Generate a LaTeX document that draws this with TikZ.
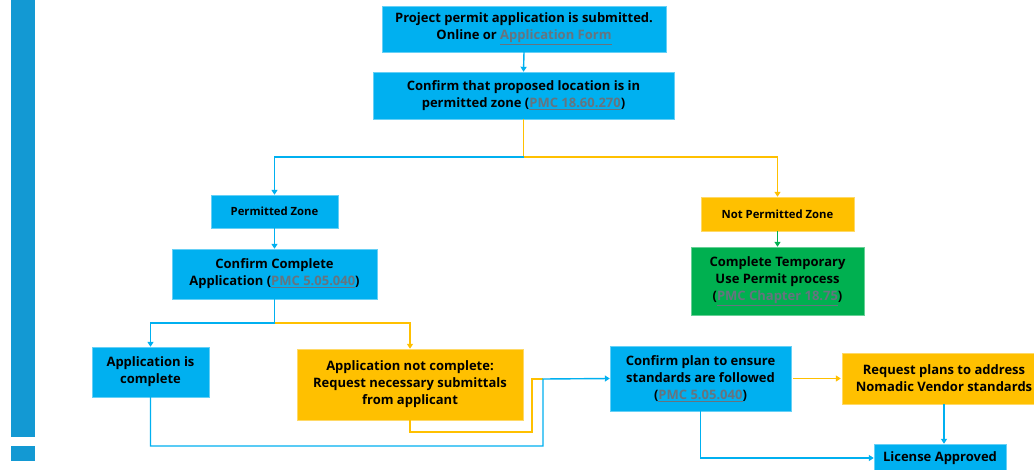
\documentclass[tikz,border=0pt]{standalone}
\usepackage{fontspec}
\setmainfont{Open Sans}
\usetikzlibrary{arrows.meta}
\definecolor{cyanbox}{HTML}{00B0F0}
\definecolor{yelbox}{HTML}{FFC000}
\definecolor{grnbox}{HTML}{00B050}
\definecolor{barblue}{HTML}{1399D3}
\definecolor{linkgray}{HTML}{66747F}
\newcommand{\lnk}[1]{\textcolor{linkgray}{\underline{#1}}}
\tikzset{
  box/.style={inner sep=0pt, align=center, font=\bfseries\fontsize{13}{17}\selectfont, text=black},
  cbox/.style={box, fill=cyanbox, draw=cyanbox!60!white, line width=0.4pt},
  ybox/.style={box, fill=yelbox, draw=yelbox!60!white, line width=0.4pt},
  gbox/.style={box, fill=grnbox, draw=grnbox!60!white, line width=0.4pt},
  small/.style={font=\bfseries\fontsize{11.3}{15}\selectfont},
  conn/.style={line width=1.4pt},
  bl/.style={conn, draw=cyanbox},
  yl/.style={conn, draw=yelbox},
  gl/.style={conn, draw=grnbox},
  tip/.style={-{Triangle[length=5pt,width=6pt]}},
}
\begin{document}
\begin{tikzpicture}[x=1pt,y=-1pt]
\clip (0,0) rectangle (1034,469);
\useasboundingbox (0,0) rectangle (1034,469);
\fill[white] (0,0) rectangle (1034,469);
% left bar
\fill[barblue] (11,0) rectangle (35,437);
\fill[barblue] (11,446) rectangle (35,461);
% nodes
\node[cbox, minimum width=284pt, minimum height=46pt] (b1) at (524,29)
  {Project permit application is submitted.\\Online or \lnk{Application Form}};
\node[cbox, minimum width=301pt, minimum height=47pt] (b2) at (523.5,95.5)
  {Confirm that proposed location is in\\permitted zone (\lnk{PMC 18.60.270})};
\node[cbox, small, minimum width=127pt, minimum height=33pt] (pz) at (274.5,211.5) {Permitted Zone};
\node[ybox, small, minimum width=153pt, minimum height=34pt] (npz) at (777.5,214) {Not Permitted Zone};
\node[cbox, minimum width=205pt, minimum height=50pt] (cca) at (274.5,274)
  {Confirm Complete\\Application (\lnk{PMC 5.05.040})};
\node[gbox, minimum width=173pt, minimum height=68pt] (tup) at (777.5,281)
  {Complete Temporary\\Use Permit process\\(\lnk{PMC Chapter 18.75})};
\node[cbox, minimum width=117pt, minimum height=50pt] (aic) at (150.5,372)
  {Application is\\complete};
\node[ybox, minimum width=226pt, minimum height=71pt] (anc) at (410,384.5)
  {Application not complete:\\Request necessary submittals\\from applicant};
\node[cbox, minimum width=181pt, minimum height=65pt] (cpl) at (700.5,378.5)
  {Confirm plan to ensure\\standards are followed\\(\lnk{PMC 5.05.040})};
\node[ybox, minimum width=204pt, minimum height=51pt] (rpl) at (944,378.5)
  {Request plans to address\\Nomadic Vendor standards};
\node[cbox, minimum width=132pt, minimum height=28pt] (lic) at (940,458)
  {License Approved};
% connectors
\draw[bl, tip] (b1.south) -- (b2.north);
\coordinate (j1) at (523.5,157);
\draw[yl, tip] (b2.south) -- (j1) -| (npz.north);
\draw[bl, tip] (j1) -| (pz.north);
\draw[bl, tip] (pz.south) -- (cca.north);
\draw[gl, tip] (npz.south) -- (tup.north);
\coordinate (j2) at (274.5,323);
\draw[bl, tip] (cca.south) -- (j2) -| (aic.north);
\draw[yl, tip] (j2) -| (anc.north);
\coordinate (y1) at (410,432);
\coordinate (y2) at (532,432);
\coordinate (y3) at (532,379);
\coordinate (m1) at (543,379);
\coordinate (bb1) at (150.5,446);
\coordinate (bb2) at (543,446);
\draw[yl] (anc.south) -- (y1) -- (y2) -- (y3) -- (m1);
\draw[bl, tip] (aic.south) -- (bb1) -- (bb2) -- (m1) -- (cpl.west);
\draw[yl, tip] ([xshift=2pt]cpl.east) -- ([xshift=-1pt]rpl.west);
\draw[bl, tip] (rpl.south) -- ([xshift=4pt]lic.north);
\coordinate (c1) at (700.5,458);
\draw[bl, tip] (cpl.south) -- (c1) -- (lic.west);
\end{tikzpicture}
\end{document}
